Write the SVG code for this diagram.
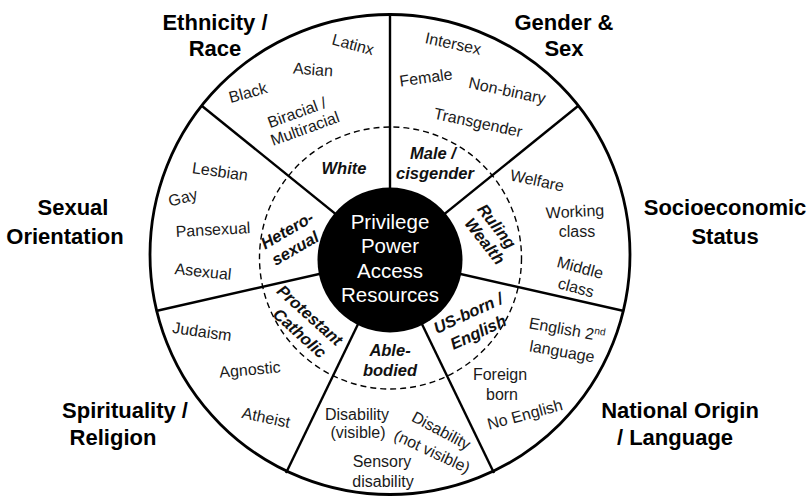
<svg xmlns="http://www.w3.org/2000/svg" width="808" height="496" viewBox="0 0 808 496">
  <style>
    .cat { font-family: "Liberation Sans", Arial, sans-serif; font-weight: bold; font-size: 22px; fill: #000; text-anchor: middle; }
    .item { font-family: "Liberation Sans", Arial, sans-serif; font-size: 16px; fill: #1a1a1a; text-anchor: middle; }
    .priv { font-family: "Liberation Sans", Arial, sans-serif; font-weight: bold; font-style: italic; font-size: 16.5px; fill: #111; text-anchor: middle; }
    .core { font-family: "Liberation Sans", Arial, sans-serif; font-size: 20.5px; fill: #fff; text-anchor: middle; }
    .rim { fill: #fff; stroke: #000; stroke-width: 2.8; }
    .spoke { stroke: #000; stroke-width: 2.4; }
    .dash { fill: none; stroke: #000; stroke-width: 1.4; stroke-dasharray: 6 4; }
  </style>

  <rect width="808" height="496" fill="#fff"/>

  <!-- outer wheel -->
  <circle class="rim" cx="390" cy="254.5" r="240"/>

  <!-- dividers between the seven sectors -->
  <g id="connectors">
    <line class="spoke" x1="390" y1="258" x2="390" y2="14"/>
    <line class="spoke" x1="390" y1="258" x2="578" y2="106"/>
    <line class="spoke" x1="390" y1="258" x2="624" y2="311"/>
    <line class="spoke" x1="390" y1="258" x2="494" y2="473"/>
    <line class="spoke" x1="390" y1="258" x2="286" y2="473"/>
    <line class="spoke" x1="390" y1="258" x2="156" y2="311"/>
    <line class="spoke" x1="390" y1="258" x2="202" y2="106"/>
    <!-- privilege boundary -->
    <circle class="dash" cx="390.5" cy="258" r="131"/>
  </g>

  <g id="ethnicity">
    <text class="cat" x="215" y="30">Ethnicity /</text>
    <text class="cat" x="215" y="56">Race</text>
    <text class="item" transform="translate(353,45) rotate(15)" y="5">Latinx</text>
    <text class="item" transform="translate(313,70) rotate(4)" y="5">Asian</text>
    <text class="item" transform="translate(248,93) rotate(-15)" y="5">Black</text>
    <text class="item" transform="translate(297,113) rotate(-20)" y="5">Biracial /</text>
    <text class="item" transform="translate(305,129) rotate(-20)" y="5">Multiracial</text>
    <text class="priv" x="344" y="174">White</text>
  </g>

  <g id="gender">
    <text class="cat" x="564" y="30">Gender &amp;</text>
    <text class="cat" x="564" y="56">Sex</text>
    <text class="item" transform="translate(453,44) rotate(12)" y="5">Intersex</text>
    <text class="item" transform="translate(426,78) rotate(-8)" y="5">Female</text>
    <text class="item" transform="translate(507,91) rotate(12)" y="5">Non-binary</text>
    <text class="item" transform="translate(478,123) rotate(12)" y="5">Transgender</text>
    <text class="priv" x="433" y="159">Male /</text>
    <text class="priv" x="435" y="179">cisgender</text>
  </g>

  <g id="socioeconomic">
    <text class="cat" x="725" y="215">Socioeconomic</text>
    <text class="cat" x="725" y="244">Status</text>
    <text class="item" transform="translate(537,181) rotate(12)" y="5">Welfare</text>
    <text class="item" transform="translate(575,212) rotate(-3)" y="5">Working</text>
    <text class="item" x="577" y="237">class</text>
    <text class="item" transform="translate(580,268) rotate(15)" y="5">Middle</text>
    <text class="item" transform="translate(576,288) rotate(15)" y="5">class</text>
    <text class="priv" transform="translate(497,226) rotate(52)" y="6">Ruling</text>
    <text class="priv" transform="translate(485,241) rotate(52)" y="6">Wealth</text>
  </g>

  <g id="national-origin">
    <text class="cat" x="680" y="418">National Origin</text>
    <text class="cat" x="675" y="445">/ Language</text>
    <text class="item" transform="translate(567,330) rotate(10)" y="5">English 2<tspan font-size="10" dy="-6">nd</tspan></text>
    <text class="item" transform="translate(562,352) rotate(10)" y="5">language</text>
    <text class="item" x="500" y="380">Foreign</text>
    <text class="item" x="502" y="400">born</text>
    <text class="item" transform="translate(525,415) rotate(-15)" y="5">No English</text>
    <text class="priv" transform="translate(468,313) rotate(-25)" y="6">US-born /</text>
    <text class="priv" transform="translate(478,332) rotate(-25)" y="6">English</text>
  </g>

  <g id="ability">
    <text class="item" x="357" y="420">Disability</text>
    <text class="item" x="358" y="438">(visible)</text>
    <text class="item" transform="translate(441,431) rotate(28)" y="5">Disability</text>
    <text class="item" transform="translate(432,452) rotate(25)" y="5">(not visible)</text>
    <text class="item" x="382" y="467">Sensory</text>
    <text class="item" x="383" y="487">disability</text>
    <text class="priv" x="390" y="356">Able-</text>
    <text class="priv" x="390" y="376">bodied</text>
  </g>

  <g id="spirituality">
    <text class="cat" x="125" y="418">Spirituality /</text>
    <text class="cat" x="113" y="445">Religion</text>
    <text class="item" transform="translate(202,332) rotate(8)" y="5">Judaism</text>
    <text class="item" transform="translate(250,370) rotate(-5)" y="5">Agnostic</text>
    <text class="item" transform="translate(266,418) rotate(12)" y="5">Atheist</text>
    <text class="priv" transform="translate(310,315) rotate(42)" y="6">Protestant</text>
    <text class="priv" transform="translate(300,333) rotate(42)" y="6">Catholic</text>
  </g>

  <g id="sexual-orientation">
    <text class="cat" x="73" y="215">Sexual</text>
    <text class="cat" x="65" y="244">Orientation</text>
    <text class="item" transform="translate(220,172) rotate(8)" y="5">Lesbian</text>
    <text class="item" transform="translate(183,198) rotate(-15)" y="5">Gay</text>
    <text class="item" transform="translate(213,230) rotate(-3)" y="5">Pansexual</text>
    <text class="item" transform="translate(203,272) rotate(6)" y="5">Asexual</text>
    <text class="priv" transform="translate(287,230) rotate(-30)" y="6">Hetero-</text>
    <text class="priv" transform="translate(295,248) rotate(-30)" y="6">sexual</text>
  </g>

  <g id="core">
    <circle cx="390" cy="260" r="72.5" fill="#000"/>
    <text class="core" x="390" y="229">Privilege</text>
    <text class="core" x="390" y="253">Power</text>
    <text class="core" x="390" y="278">Access</text>
    <text class="core" x="390" y="302">Resources</text>
  </g>
</svg>
